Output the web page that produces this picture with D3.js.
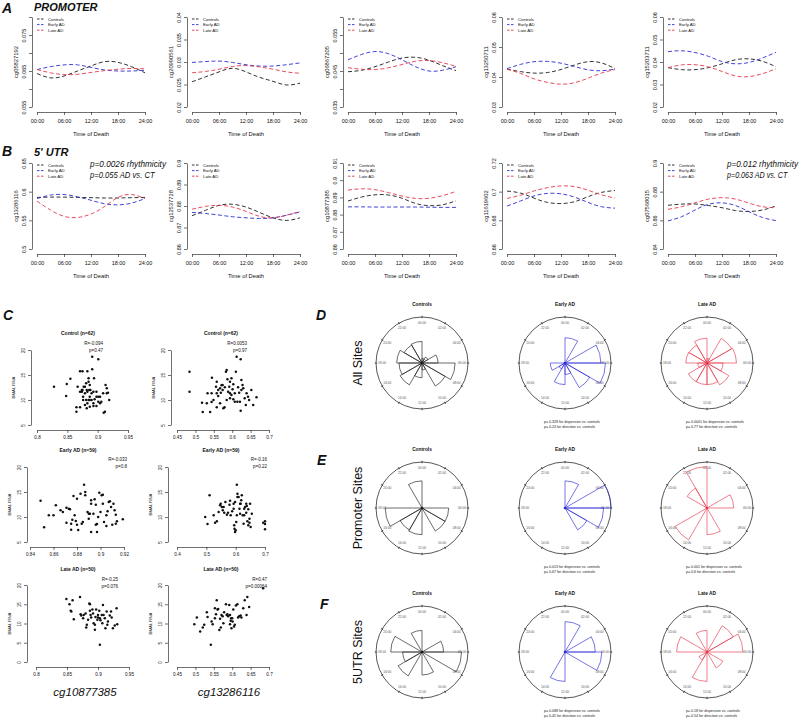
<!DOCTYPE html>
<html><head><meta charset="utf-8">
<script src="https://cdn.jsdelivr.net/npm/d3@7"></script>
<style>body{margin:0;background:#fff}svg{display:block}text{font-family:Arial,"Liberation Sans",sans-serif}</style>
</head><body><svg id="fig" width="800" height="719"></svg>
<script>
// ---------------- DATA ----------------
const hours = [0, 3, 6, 9, 12, 15, 18, 21, 24];
const timeTicks = [0, 6, 12, 18, 24];
const timeTickLabels = ["00:00", "06:00", "12:00", "18:00", "24:00"];
const groupNames = ["Controls", "Early AD", "Late AD"];

const promoterProbes = ["cg05827192", "cg20990561", "cg06867205", "cg13250711", "cg15203711"];
const promoterYTicks = [[0.055,0.06,0.065,0.07,0.075,0.08],[0.02,0.025,0.03,0.035,0.04],[0.035,0.04,0.045,0.05,0.055,0.06],[0.03,0.04,0.05,0.06],[0.02,0.03,0.04,0.05,0.06]];
const promoterYTickLabels = [["0.055","","0.065","","0.075",""],["0.02","0.025","0.03","0.035","0.04"],["0.035","","0.045","","0.055",""],["0.03","0.04","0.05","0.06"],["0.02","0.03","0.04","0.05","0.06"]];
const promoterControls = [
  [0.0643,0.0631,0.0636,0.065,0.0664,0.0676,0.0674,0.0662,0.0645],
  [0.0256,0.0267,0.0278,0.0286,0.0278,0.0266,0.0257,0.0249,0.0253],
  [0.0448,0.0452,0.0462,0.0475,0.0486,0.0488,0.048,0.0465,0.0451],
  [0.0426,0.0418,0.0413,0.0415,0.0425,0.044,0.0451,0.0447,0.0428],
  [0.0375,0.0366,0.0366,0.0375,0.0392,0.041,0.0414,0.0403,0.0379]];
const promoterEarlyAD = [
  [0.0654,0.0662,0.0667,0.0667,0.066,0.0653,0.065,0.065,0.0652],
  [0.0299,0.0301,0.0302,0.0299,0.0294,0.0291,0.0291,0.0294,0.0298],
  [0.0481,0.0496,0.0504,0.0498,0.0481,0.0462,0.045,0.0452,0.0462],
  [0.0428,0.0442,0.0451,0.0452,0.0446,0.0435,0.0424,0.0421,0.0426],
  [0.0446,0.045,0.0442,0.0425,0.0402,0.0392,0.0398,0.0418,0.0443]];
const promoterLateAD = [
  [0.0654,0.0645,0.064,0.0641,0.0646,0.0651,0.0655,0.0657,0.0656],
  [0.0276,0.0279,0.0284,0.029,0.0292,0.0289,0.0284,0.0278,0.0275],
  [0.0459,0.0455,0.0454,0.0459,0.0468,0.0477,0.0479,0.0473,0.0463],
  [0.0426,0.0412,0.0394,0.0382,0.0376,0.0381,0.0396,0.0413,0.0425],
  [0.0375,0.0387,0.0388,0.0378,0.0358,0.0338,0.0335,0.0348,0.037]];

const utrProbes = ["cg13286116", "cg12537728", "cg10877385", "cg11619602", "cg07568015"];
const utrYTicks = [[0.5,0.55,0.6,0.65],[0.86,0.87,0.88,0.89,0.9],[0.86,0.87,0.88,0.89,0.9,0.91],[0.66,0.68,0.7,0.72],[0.84,0.86,0.88,0.9]];
const utrYTickLabels = [["0.5","0.55","0.6","0.65"],["0.86","0.87","0.88","0.89","0.9"],["0.86","0.87","0.88","0.89","0.9","0.91"],["0.66","0.68","0.7","0.72"],["0.84","0.86","0.88","0.9"]];
const utrControls = [
  [0.590,0.5905,0.5905,0.590,0.5895,0.589,0.589,0.5895,0.5898],
  [0.8755,0.878,0.8803,0.8808,0.8795,0.877,0.8745,0.8733,0.8745],
  [0.8879,0.8902,0.8915,0.8914,0.8895,0.8865,0.8852,0.8857,0.888],
  [0.7004,0.699,0.6955,0.6925,0.6917,0.693,0.6965,0.6995,0.7008],
  [0.8705,0.8713,0.8714,0.8703,0.8688,0.8668,0.8662,0.8672,0.870]];
const utrEarlyAD = [
  [0.588,0.594,0.595,0.591,0.585,0.579,0.577,0.580,0.588],
  [0.877,0.8765,0.8758,0.875,0.8745,0.8742,0.8745,0.8757,0.8772],
  [0.8845,0.8845,0.8844,0.8844,0.8844,0.8844,0.8843,0.8842,0.8842],
  [0.69,0.6935,0.697,0.6988,0.6985,0.6962,0.6925,0.6895,0.6885],
  [0.8596,0.8625,0.8672,0.8712,0.8722,0.8703,0.866,0.862,0.8598]];
const utrLateAD = [
  [0.5835,0.568,0.557,0.555,0.561,0.574,0.590,0.595,0.588],
  [0.8785,0.8798,0.8803,0.8795,0.8775,0.8752,0.8745,0.8757,0.8775],
  [0.8942,0.895,0.8945,0.8928,0.8908,0.8894,0.8895,0.891,0.8935],
  [0.6953,0.6975,0.7005,0.7028,0.704,0.7035,0.701,0.6978,0.6955],
  [0.8677,0.8695,0.8722,0.8748,0.8758,0.8748,0.872,0.8695,0.8688]];
const utrAnnotations = [["p=0.0026 rhythmicity","p=0.055 AD vs. CT"], null, null, null, ["p=0.012 rhythmicity","p=0.063 AD vs. CT"]];

// Panel C scatter data (methylation beta, BMAL RNA)
const ctrlCg108 = [0.828,0.849,0.855,0.848,0.871,0.875,0.883,0.891,0.901,0.891,0.867,0.874,0.877,0.881,0.885,0.887,0.882,0.874,0.871,0.879,0.883,0.888,0.893,0.898,0.890,0.885,0.894,0.876,0.881,0.885,0.887,0.890,0.883,0.893,0.898,0.901,0.904,0.909,0.913,0.915,0.917,0.919,0.906,0.901,0.893,0.887,0.879,0.865,0.871,0.865,0.882,0.912,0.910,0.898,0.904,0.895,0.887,0.876,0.915,0.879,0.886,0.875];
const ctrlBmalA = [12.67,13.2,14.27,10.8,15.73,15.73,15.73,18.67,18.13,16.13,12.67,12.0,12.67,13.33,13.67,13.0,12.0,11.67,11.67,11.33,11.67,12.0,11.67,11.67,11.33,14.33,14.33,10.0,10.0,10.0,10.0,10.0,9.33,9.33,10.67,10.67,10.67,11.33,13.0,12.33,11.47,10.0,9.67,9.67,8.8,8.67,9.0,8.53,8.53,7.67,8.33,7.67,7.47,8.8,9.33,10.13,10.67,10.67,11.33,12.67,12.0,12.0];
const ctrlCg132 = [0.484,0.484,0.518,0.520,0.540,0.544,0.544,0.533,0.545,0.556,0.558,0.562,0.567,0.569,0.571,0.574,0.576,0.579,0.585,0.583,0.587,0.594,0.592,0.589,0.594,0.598,0.594,0.585,0.601,0.603,0.607,0.614,0.621,0.612,0.623,0.610,0.625,0.628,0.630,0.625,0.634,0.637,0.643,0.646,0.652,0.657,0.666,0.623,0.616,0.603,0.567,0.558,0.549,0.531,0.562,0.574,0.580,0.598,0.619,0.639,0.558,0.607];
const ctrlBmalB = [15.67,11.67,9.47,7.6,7.6,9.6,11.33,11.33,14.47,12.67,11.33,12.0,12.33,11.47,12.93,13.0,8.33,8.53,16.0,15.67,14.13,13.67,12.67,11.67,11.33,11.0,10.33,10.0,12.13,13.13,9.67,9.67,9.67,18.67,18.13,15.67,14.0,13.0,12.33,12.0,10.33,9.0,10.67,10.0,12.0,9.0,10.53,7.87,12.53,10.13,9.33,8.53,10.0,9.33,10.8,12.0,12.53,14.33,11.47,11.33,13.67,11.33];
const earlyCg108 = [0.849,0.852,0.856,0.860,0.862,0.866,0.868,0.871,0.873,0.874,0.871,0.875,0.875,0.876,0.877,0.879,0.880,0.881,0.880,0.883,0.885,0.886,0.887,0.887,0.889,0.890,0.891,0.892,0.892,0.894,0.895,0.896,0.896,0.897,0.897,0.898,0.899,0.900,0.901,0.902,0.902,0.903,0.905,0.905,0.906,0.907,0.908,0.909,0.910,0.911,0.912,0.913,0.913,0.914,0.919,0.892,0.884,0.890,0.878];
const earlyBmalA = [13.27,7.93,10.33,10.33,12.33,11.33,11.0,11.87,11.67,11.53,8.87,8.67,7.47,9.47,14.2,9.2,8.47,7.4,13.67,14.67,9.0,16.47,15.0,14.33,11.0,10.67,10.67,12.67,13.33,10.67,13.53,12.47,8.47,8.6,7.0,10.0,14.87,11.0,14.33,14.47,12.67,9.0,10.33,8.2,11.13,13.0,13.13,12.0,8.47,12.67,11.33,10.47,8.67,9.13,9.53,7.0,8.67,9.67,10.33];
const earlyCg132 = [0.496,0.504,0.511,0.525,0.530,0.536,0.542,0.547,0.549,0.553,0.556,0.559,0.561,0.565,0.570,0.574,0.579,0.581,0.583,0.588,0.593,0.595,0.596,0.598,0.600,0.602,0.604,0.606,0.606,0.610,0.613,0.615,0.617,0.619,0.621,0.624,0.627,0.629,0.632,0.636,0.638,0.643,0.647,0.649,0.655,0.604,0.651,0.593,0.598,0.643,0.640,0.615,0.629,0.636,0.647,0.694,0.700,0.700,0.700];
const earlyBmalB = [10.0,8.6,14.33,10.33,8.87,9.13,11.0,12.33,12.67,12.0,11.33,12.0,10.87,13.0,10.47,10.87,12.47,13.27,10.33,11.13,11.67,8.33,7.67,7.0,7.33,9.0,10.33,14.67,14.0,14.0,11.67,10.67,12.67,13.33,14.33,10.33,8.67,10.33,12.0,12.67,12.2,11.53,8.87,12.67,10.67,16.47,8.0,12.67,13.0,8.33,9.13,12.67,11.67,10.87,9.67,8.87,8.6,9.13,7.53];
const lateCg108 = [0.849,0.854,0.856,0.857,0.859,0.861,0.871,0.872,0.873,0.876,0.877,0.880,0.881,0.882,0.884,0.886,0.887,0.887,0.888,0.889,0.891,0.892,0.893,0.895,0.896,0.897,0.899,0.900,0.900,0.902,0.903,0.904,0.906,0.907,0.908,0.909,0.911,0.912,0.914,0.915,0.916,0.919,0.921,0.922,0.924,0.927,0.930,0.931,0.903,0.895];
const lateBmalA = [16.38,15.0,13.28,13.1,16.03,11.12,16.9,12.41,12.07,11.38,12.24,12.59,8.97,9.66,10.95,15.17,15.0,13.28,12.24,11.55,13.62,12.59,10.09,9.66,11.72,13.62,10.95,12.24,11.55,13.28,11.38,10.86,12.24,10.09,14.83,12.24,11.38,8.79,13.1,9.66,10.52,12.07,13.1,11.55,8.79,9.48,13.97,9.83,4.48,8.36];
const lateCg132 = [0.497,0.504,0.513,0.520,0.524,0.531,0.533,0.542,0.544,0.547,0.553,0.556,0.558,0.560,0.562,0.565,0.567,0.569,0.571,0.574,0.578,0.583,0.585,0.587,0.589,0.592,0.594,0.596,0.597,0.598,0.600,0.601,0.603,0.605,0.607,0.610,0.614,0.616,0.619,0.623,0.625,0.630,0.634,0.639,0.641,0.646,0.594,0.576,0.553,0.684];
const lateBmalB = [9.83,11.55,7.93,8.97,9.66,12.93,11.72,4.48,10.52,9.83,13.97,12.41,16.03,13.62,13.79,8.28,11.21,8.97,12.24,11.9,12.93,15.0,12.24,12.41,11.9,14.83,9.83,10.69,11.38,8.79,11.38,10.52,13.62,9.22,9.66,14.66,15.0,11.55,11.9,12.07,11.55,13.97,16.03,12.24,16.9,14.31,12.24,10.09,11.38,19.14];
const scatterTitles = ["Control (n=62)", "Early AD (n=59)", "Late AD (n=50)"];
const scatterR = [["R=-0.094","R=0.0053"],["R=-0.033","R=-0.16"],["R=-0.25","R=0.47"]];
const scatterP = [["p=0.47","p=0.97"],["p=0.8","p=0.22"],["p=0.076","p=0.00064"]];
const scatterXTicksLeft = [[0.8,0.85,0.9,0.95],[0.84,0.86,0.88,0.9,0.92],[0.8,0.85,0.9,0.95]];
const scatterXTicksRight = [[0.45,0.5,0.55,0.6,0.65,0.7],[0.4,0.5,0.6,0.7],[0.45,0.5,0.55,0.6,0.65,0.7]];
const scatterYTicks = [[5,10,15,20],[5,10,15,20],[0,5,10,15,20]];
const scatterXLabels = ["cg10877385", "cg13286116"];

// Panels D-F: rose diagrams, relative radius per 2-hour bin (00-02, 02-04, ... 22-24)
const clockLabels = ["00:00","02:00","04:00","06:00","08:00","10:00","12:00","14:00","16:00","18:00","20:00","22:00"];
const roseAllControls = [0.1,0.15,0.35,0.72,0.58,0.15,0.32,0.55,0.5,0.55,0.45,0.47];
const roseAllEarly    = [0.55,0,0.78,0.88,0.62,0.25,0.47,0.15,0.32,0,0,0];
const roseAllLate     = [0.1,0.62,0.64,0.35,0.55,0.47,0.47,0.47,0.2,0.46,0.45,0.54];
const rosePromControls= [0,0,0,0.58,0.58,0,0.58,0.55,0.8,0,0,0.59];
const rosePromEarly   = [0.59,0,1.0,0.84,0.55,0,0,0,0,0,0,0];
const rosePromLate    = [0,0,0.58,0,0,0.58,0,0.8,0,0,0.5,0.9];
const roseUtrControls = [0,0,0.47,0.86,0,0.5,0,0.6,0.42,0.68,0,0.47];
const roseUtrEarly    = [0.66,0,0.66,0.8,0,0,0.64,0,0,0,0,0];
const roseUtrLate     = [0,0.66,0.78,0,0.4,0,0.64,0.2,0,0.66,0,0.47];
const roseRowNames = ["All Sites", "Promoter Sites", "5UTR Sites"];
const rosePTexts = [
  [["p= 0.328  for dispersion vs. controls","p= 0.24  for direction vs. controls"],["p= 0.0001  for dispersion vs. controls","p= 0.77  for direction vs. controls"]],
  [["p= 0.013  for dispersion vs. controls","p= 0.67  for direction vs. controls"],["p= 0.001  for dispersion vs. controls","p= 0.6  for direction vs. controls"]],
  [["p= 0.088  for dispersion vs. controls","p= 0.45  for direction vs. controls"],["p= 0.18  for dispersion vs. controls","p= 0.54  for direction vs. controls"]]];

// ---------------- DRAW ----------------
const svg = d3.select("#fig");
svg.append("rect").attr("width",800).attr("height",719).attr("fill","#fff");
const colors = ["#1c1c1c", "#2c2cd6", "#e6384c"];
const FONT = 'Arial,"Liberation Sans",sans-serif';

function styleAxis(sel, fs) {
  sel.attr("font-size", fs).attr("font-family", FONT);
  sel.selectAll("path,line").attr("stroke", "#111").attr("stroke-width", 0.6);
  sel.selectAll("text").attr("fill", "#111");
}

// Panels A, B
const tcLeft = [37, 192, 348, 507, 668];
const tcWidth = 108;
const rowGeom = [{top:17, bottom:107, xAxisY:112}, {top:163, bottom:249, xAxisY:254}];
const annotBox = [{x:90, w:76}, null, null, null, {x:727, w:71}];

function drawTimeCourse(row, i, probe, ticks, labels, series, annot) {
  const geo = rowGeom[row], left = tcLeft[i];
  const x = d3.scaleLinear().domain([0, 24]).range([left, left + tcWidth]);
  const y = d3.scaleLinear().domain([ticks[0], ticks[ticks.length - 1]]).range([geo.bottom, geo.top]);
  const g = svg.append("g");
  const ya = g.append("g").attr("transform", `translate(${left - 5},0)`)
    .call(d3.axisLeft(y).tickValues(ticks).tickFormat((d, k) => labels[k]).tickSize(3).tickSizeOuter(0));
  styleAxis(ya, 5.5);
  ya.selectAll("text").attr("x", 0).attr("dy", null).attr("text-anchor", "middle")
    .attr("transform", "translate(-6,0) rotate(-90)");
  const xa = g.append("g").attr("transform", `translate(0,${geo.xAxisY})`)
    .call(d3.axisBottom(x).tickValues(timeTicks).tickFormat((d, k) => timeTickLabels[k]).tickSize(3).tickSizeOuter(0).tickPadding(4));
  styleAxis(xa, 5.5);
  g.append("text").attr("x", left + tcWidth / 2).attr("y", geo.xAxisY + 24).attr("text-anchor", "middle")
    .attr("font-size", 5.8).attr("fill", "#111").text("Time of Death");
  g.append("text").attr("transform", `translate(${left - 19},${(geo.top + geo.bottom) / 2}) rotate(-90)`)
    .attr("text-anchor", "middle").attr("font-size", 5.8).attr("fill", "#111").text(probe);
  const line = d3.line().x((d, k) => x(hours[k])).y(d => y(d)).curve(d3.curveNatural);
  series.forEach((s, k) => {
    g.append("path").attr("d", line(s)).attr("fill", "none").attr("stroke", colors[k])
      .attr("stroke-width", 0.9).attr("stroke-dasharray", "4,2.5");
  });
  groupNames.forEach((nm, k) => {
    const yy = geo.top + 2 + k * 5.6;
    g.append("line").attr("x1", left).attr("x2", left + 8).attr("y1", yy).attr("y2", yy)
      .attr("stroke", colors[k]).attr("stroke-width", 0.9).attr("stroke-dasharray", "2.5,1.5");
    g.append("text").attr("x", left + 11).attr("y", yy + 1.5).attr("font-size", 4.3).attr("fill", "#111").text(nm);
  });
  if (annot) {
    const box = annotBox[i];
    annot.forEach((t, k) => {
      g.append("text").attr("x", box.x).attr("y", geo.top + 4 + k * 11)
        .attr("font-size", 8.4).attr("font-style", "italic").attr("fill", "#111")
        .attr("textLength", k === 0 ? box.w : box.w * 0.85).attr("lengthAdjust", "spacingAndGlyphs").text(t);
    });
  }
}
promoterProbes.forEach((p, i) => drawTimeCourse(0, i, p, promoterYTicks[i], promoterYTickLabels[i],
  [promoterControls[i], promoterEarlyAD[i], promoterLateAD[i]], null));
utrProbes.forEach((p, i) => drawTimeCourse(1, i, p, utrYTicks[i], utrYTickLabels[i],
  [utrControls[i], utrEarlyAD[i], utrLateAD[i]], utrAnnotations[i]));

function label(x, y, t, fs) {
  return svg.append("text").attr("x", x).attr("y", y).attr("font-size", fs)
    .attr("font-weight", "bold").attr("font-style", "italic").attr("fill", "#111").text(t);
}
label(2, 13, "A", 14); label(34, 11, "PROMOTER", 11);
label(2, 156, "B", 14); label(34, 156, "5' UTR", 11);
label(3, 320, "C", 14); label(316, 320, "D", 14);
label(317, 465, "E", 14); label(320, 609, "F", 14);

// Panel C
const scRows = [{top:350, bottom:425, title:335, r:345}, {top:467, bottom:542, title:452, r:461}, {top:585, bottom:662, title:571, r:581}];
const scLeft = [{axisX:[31,27,27], xr:[[37,128],[30,124],[36,129]], titleX:78, rX:[103,127,118]},
                {axisX:[171,168,168], xr:[[177,269],[177,265],[177,269]], titleX:221, rX:[247,267,267]}];
const scData = [[[ctrlCg108, ctrlBmalA],[ctrlCg132, ctrlBmalB]],
                [[earlyCg108, earlyBmalA],[earlyCg132, earlyBmalB]],
                [[lateCg108, lateBmalA],[lateCg132, lateBmalB]]];
scRows.forEach((rg, r) => {
  [0, 1].forEach(c => {
    const L = scLeft[c];
    const xt = c === 0 ? scatterXTicksLeft[r] : scatterXTicksRight[r];
    const yt = scatterYTicks[r];
    const x = d3.scaleLinear().domain([xt[0], xt[xt.length - 1]]).range(L.xr[r]);
    const y = d3.scaleLinear().domain([yt[0], yt[yt.length - 1]]).range([rg.bottom, rg.top]);
    const g = svg.append("g");
    const ya = g.append("g").attr("transform", `translate(${L.axisX[r]},0)`)
      .call(d3.axisLeft(y).tickValues(yt).tickFormat(d3.format("d")).tickSize(3).tickSizeOuter(0));
    styleAxis(ya, 4.6);
    ya.selectAll("text").attr("x", 0).attr("dy", null).attr("text-anchor", "middle")
      .attr("transform", "translate(-6,0) rotate(-90)");
    const xa = g.append("g").attr("transform", `translate(0,${rg.bottom + 5})`)
      .call(d3.axisBottom(x).tickValues(xt).tickFormat(d => String(d)).tickSize(3).tickSizeOuter(0).tickPadding(3));
    styleAxis(xa, 4.6);
    g.append("text").attr("transform", `translate(${L.axisX[r] - 16},${(rg.top + rg.bottom) / 2}) rotate(-90)`)
      .attr("text-anchor", "middle").attr("font-size", 4.3).attr("fill", "#111").text("BMAL RNA");
    g.append("text").attr("x", L.titleX).attr("y", rg.title).attr("text-anchor", "middle")
      .attr("font-size", 5).attr("font-weight", "bold").attr("fill", "#111").text(scatterTitles[r]);
    g.append("text").attr("x", L.rX[r]).attr("y", rg.r).attr("text-anchor", "end")
      .attr("font-size", 4.5).attr("fill", "#111").text(scatterR[r][c]);
    g.append("text").attr("x", L.rX[r]).attr("y", rg.r + 7).attr("text-anchor", "end")
      .attr("font-size", 4.5).attr("fill", "#111").text(scatterP[r][c]);
    const [xs, ys] = scData[r][c];
    g.selectAll("circle.pt").data(xs).enter().append("circle")
      .attr("cx", d => x(d)).attr("cy", (d, k) => y(ys[k])).attr("r", 1.25).attr("fill", "#111");
  });
});
svg.append("text").attr("x", 85).attr("y", 696).attr("text-anchor", "middle").attr("font-size", 11.5)
  .attr("font-style", "italic").attr("fill", "#111").text(scatterXLabels[0]);
svg.append("text").attr("x", 229).attr("y", 696).attr("text-anchor", "middle").attr("font-size", 11.5)
  .attr("font-style", "italic").attr("fill", "#111").text(scatterXLabels[1]);

// Panels D-F
const roseCx = [422, 565, 707];
const roseCy = [363, 508, 652];
const roseR = 46;
const roseSets = [[roseAllControls, roseAllEarly, roseAllLate],
                  [rosePromControls, rosePromEarly, rosePromLate],
                  [roseUtrControls, roseUtrEarly, roseUtrLate]];
const rScale = d3.scaleLinear().domain([0, 1]).range([0, roseR]);
const angle = d3.scaleLinear().domain([0, 12]).range([0, 2 * Math.PI]);
const arc = d3.arc().innerRadius(0).outerRadius(d => rScale(d.v))
  .startAngle(d => angle(d.i)).endAngle(d => angle(d.i + 1));
roseSets.forEach((set, r) => {
  const cy = roseCy[r];
  svg.append("text").attr("transform", `translate(362,${cy}) rotate(-90)`).attr("text-anchor", "middle")
    .attr("font-size", 12.5).attr("fill", "#111").text(roseRowNames[r]);
  set.forEach((bins, c) => {
    const cx = roseCx[c];
    const g = svg.append("g").attr("transform", `translate(${cx},${cy})`);
    g.append("circle").attr("r", roseR).attr("fill", "none").attr("stroke", "#111").attr("stroke-width", 0.7);
    clockLabels.forEach((lb, k) => {
      const a = angle(k);
      g.append("line").attr("x1", Math.sin(a) * (roseR - 1.2)).attr("y1", -Math.cos(a) * (roseR - 1.2))
        .attr("x2", Math.sin(a) * (roseR + 1.2)).attr("y2", -Math.cos(a) * (roseR + 1.2))
        .attr("stroke", "#111").attr("stroke-width", 0.7);
      g.append("text").attr("x", Math.sin(a) * roseR * 0.87).attr("y", -Math.cos(a) * roseR * 0.87 + 1.1)
        .attr("text-anchor", "middle").attr("font-size", 3.2).attr("fill", "#555").text(lb);
    });
    const data = bins.map((v, i) => ({v, i})).filter(d => d.v > 0);
    g.selectAll("path.petal").data(data).enter().append("path").attr("d", arc)
      .attr("fill", "none").attr("stroke", colors[c]).attr("stroke-width", 0.65);
    g.append("circle").attr("r", 1.3).attr("fill", colors[c]);
    svg.append("text").attr("x", cx).attr("y", cy - 57).attr("text-anchor", "middle")
      .attr("font-size", 4.8).attr("font-weight", "bold").attr("fill", "#111").text(groupNames[c]);
    if (c > 0) {
      rosePTexts[r][c - 1].forEach((t, k) => {
        svg.append("text").attr("x", cx - 21).attr("y", cy + 59.5 + k * 5).attr("font-size", 3.6)
          .attr("fill", "#222").text(t);
      });
    }
  });
});
</script></body></html>
